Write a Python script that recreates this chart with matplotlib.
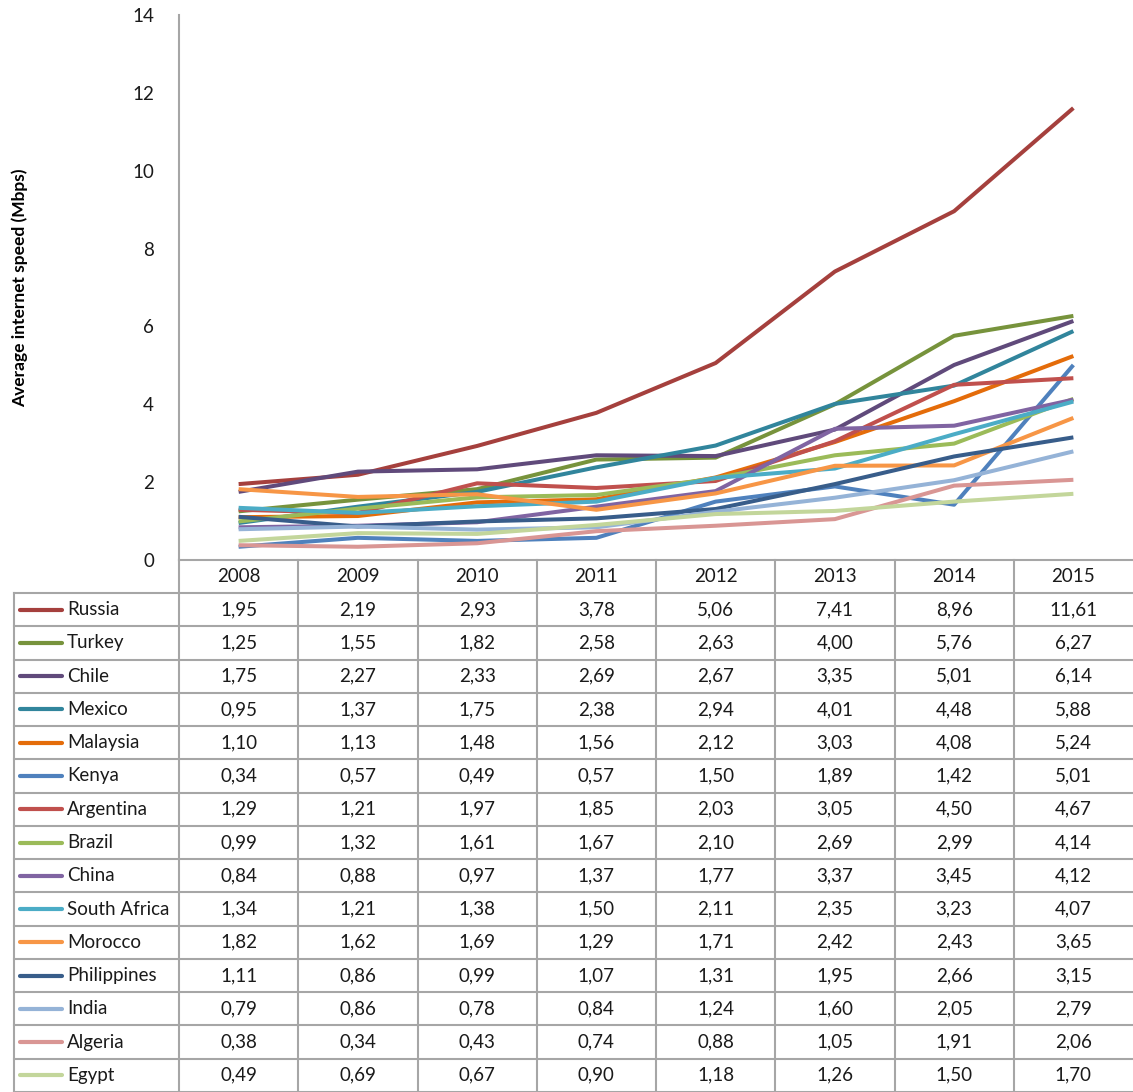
import numpy as np
import matplotlib.pyplot as plt

############### Data ###############

years = [2008, 2009, 2010, 2011, 2012, 2013, 2014, 2015]
countries = ["Russia", "Turkey", "Chile", "Mexico", "Malaysia", "Kenya",
             "Argentina", "Brazil", "China", "South Africa", "Morocco",
             "Philippines", "India", "Algeria", "Egypt"]

russia = [1.95, 2.19, 2.93, 3.78, 5.06, 7.41, 8.96, 11.61]
turkey = [1.25, 1.55, 1.82, 2.58, 2.63, 4.00, 5.76, 6.27]
chile = [1.75, 2.27, 2.33, 2.69, 2.67, 3.35, 5.01, 6.14]
mexico = [0.95, 1.37, 1.75, 2.38, 2.94, 4.01, 4.48, 5.88]
malaysia = [1.10, 1.13, 1.48, 1.56, 2.12, 3.03, 4.08, 5.24]
kenya = [0.34, 0.57, 0.49, 0.57, 1.50, 1.89, 1.42, 5.01]
argentina = [1.29, 1.21, 1.97, 1.85, 2.03, 3.05, 4.50, 4.67]
brazil = [0.99, 1.32, 1.61, 1.67, 2.10, 2.69, 2.99, 4.14]
china = [0.84, 0.88, 0.97, 1.37, 1.77, 3.37, 3.45, 4.12]
south_africa = [1.34, 1.21, 1.38, 1.50, 2.11, 2.35, 3.23, 4.07]
morocco = [1.82, 1.62, 1.69, 1.29, 1.71, 2.42, 2.43, 3.65]
philippines = [1.11, 0.86, 0.99, 1.07, 1.31, 1.95, 2.66, 3.15]
india = [0.79, 0.86, 0.78, 0.84, 1.24, 1.60, 2.05, 2.79]
algeria = [0.38, 0.34, 0.43, 0.74, 0.88, 1.05, 1.91, 2.06]
egypt = [0.49, 0.69, 0.67, 0.90, 1.18, 1.26, 1.50, 1.70]

series = [russia, turkey, chile, mexico, malaysia, kenya, argentina, brazil,
          china, south_africa, morocco, philippines, india, algeria, egypt]

colors = ["#A5403D", "#77933C", "#604A7B", "#31859C", "#E46C0A", "#4F81BD",
          "#C0504D", "#9BBB59", "#8064A2", "#4BACC6", "#F79646", "#385D8A",
          "#95B3D7", "#D99694", "#C3D69B"]

############### Layout (pixels) ###############

W, H = 1133, 1092
plot_left, plot_right = 179, 1133
plot_top, plot_bottom = 15, 560
table_left = 14
header_bottom = 593
row_h = (H - header_bottom) / len(countries)
grid_color = "#A6A6A6"
text_color = "#1A1A1A"
fs = 13.5

plt.rcParams['font.family'] = ['Lato', 'DejaVu Sans']

fig = plt.figure(figsize=(W / 100, H / 100), dpi=100)

##### Line chart
ax = fig.add_axes([plot_left / W, 1 - plot_bottom / H,
                   (plot_right - plot_left) / W, (plot_bottom - plot_top) / H])
x = np.arange(len(years))
for vals, c in zip(series, colors):
    ax.plot(x, vals, color=c, lw=2.9, solid_capstyle="butt",
            solid_joinstyle="round")

ax.set_xlim(-0.5, len(years) - 0.5)
ax.set_ylim(0, 14)
ax.set_yticks(range(0, 15, 2))
ax.set_xticks([])
ax.tick_params(axis="y", length=0, pad=18, labelsize=fs, labelcolor=text_color)
for s in ["top", "right", "bottom"]:
    ax.spines[s].set_visible(False)
ax.spines["left"].set_color(grid_color)
ax.spines["left"].set_linewidth(1.5)
ax.set_facecolor("none")

fig.text(20 / W, 1 - 288 / H, "Average internet speed (Mbps)", rotation=90,
         ha="center", va="center", fontsize=12.5, fontweight="bold",
         color="black")

##### Data table under the chart
tab = fig.add_axes([0, 0, 1, 1], zorder=-1)
tab.set_xlim(0, W)
tab.set_ylim(H, 0)
tab.axis("off")

col_w = (plot_right - plot_left) / len(years)

# header row
tab.plot([plot_left, W], [plot_bottom, plot_bottom], color=grid_color, lw=1.5)
for j, yr in enumerate(years):
    tab.text(plot_left + (j + 0.5) * col_w, (plot_bottom + header_bottom) / 2,
             str(yr), ha="center", va="center", fontsize=fs, color=text_color)

# horizontal rules
for i in range(len(countries) + 1):
    yy = header_bottom + i * row_h
    tab.plot([table_left, W], [yy, yy], color=grid_color, lw=1.5)

# vertical rules
tab.plot([table_left, table_left], [header_bottom, H], color=grid_color, lw=1.5)
for j in range(1, len(years)):
    xx = plot_left + j * col_w
    tab.plot([xx, xx], [plot_bottom, H], color=grid_color, lw=1.5)
tab.plot([plot_left, plot_left], [plot_bottom, H], color=grid_color, lw=1.5)

# rows: legend key, name and values
for i, (name, vals, c) in enumerate(zip(countries, series, colors)):
    yc = header_bottom + (i + 0.5) * row_h
    tab.plot([20, 62], [yc, yc], color=c, lw=3, solid_capstyle="round")
    tab.text(67, yc, name, ha="left", va="center", fontsize=fs,
             color=text_color)
    for j, v in enumerate(vals):
        tab.text(plot_left + (j + 0.5) * col_w, yc,
                 f"{v:.2f}".replace(".", ","), ha="center", va="center",
                 fontsize=fs, color=text_color)

fig.savefig("out.png", dpi=100, facecolor="white")
